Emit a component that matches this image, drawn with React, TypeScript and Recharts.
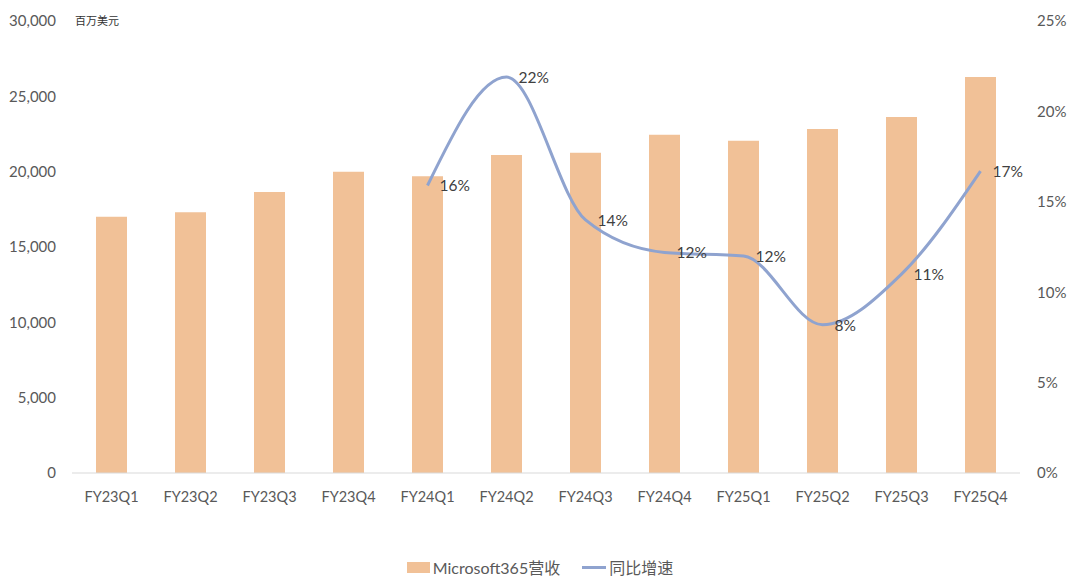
import React from "react";
import {
  ComposedChart,
  Bar,
  Line,
  XAxis,
  YAxis,
  Legend,
  LabelList,
} from "recharts";

const quarters = [
  "FY23Q1", "FY23Q2", "FY23Q3", "FY23Q4",
  "FY24Q1", "FY24Q2", "FY24Q3", "FY24Q4",
  "FY25Q1", "FY25Q2", "FY25Q3", "FY25Q4",
];
const revenue = [
  17000, 17300, 18650, 20000, 19700, 21100, 21260, 22450, 22050, 22830, 23630, 26280,
];
const growth = [
  null, null, null, null, 0.159, 0.219, 0.14, 0.122, 0.12, 0.082, 0.11, 0.167,
];
const leftTicks = [0, 5000, 10000, 15000, 20000, 25000, 30000];
const rightTicks = [0, 0.05, 0.1, 0.15, 0.2, 0.25];

const BAR_COLOR = "#F1C197";
const LINE_COLOR = "#8FA3CF";
const FONT = "Lato, 'Noto Sans CJK SC', sans-serif";

const data = quarters.map((q, i) => ({
  name: q,
  revenue: revenue[i],
  growth: growth[i],
}));

function PctLabel(props: any) {
  const { x, y, value } = props;
  if (value == null) return null;
  return (
    <text
      x={x + 12}
      y={y + 2}
      dominantBaseline="middle"
      textAnchor="start"
      fill="#404040"
      fontSize={15.5}
      fontFamily={FONT}
    >
      {Math.round(value * 100) + "%"}
    </text>
  );
}

function LegendContent() {
  return (
    <div
      style={{
        display: "flex",
        justifyContent: "center",
        alignItems: "center",
        fontFamily: FONT,
        fontSize: 16,
        color: "#595959",
      }}
    >
      <span style={{ display: "inline-block", width: 23, height: 11, background: BAR_COLOR, marginRight: 3 }} />
      <span>Microsoft365营收</span>
      <span style={{ display: "inline-block", width: 24, height: 3, background: LINE_COLOR, marginLeft: 22, marginRight: 3 }} />
      <span>同比增速</span>
    </div>
  );
}

export default function App() {
  return (
    <div style={{ position: "absolute", left: 0, top: 0, width: 1080, height: 582, background: "#fff" }}>
      <ComposedChart
        width={1080}
        height={582}
        data={data}
        margin={{ top: 21, right: 0, bottom: 79, left: 0 }}
      >
        <XAxis
          dataKey="name"
          height={30}
          tickLine={false}
          tickSize={0}
          tickMargin={19}
          axisLine={{ stroke: "#D9D9D9" }}
          tick={{ fill: "#595959", fontSize: 14.5, fontFamily: FONT }}
          interval={0}
        />
        <YAxis
          yAxisId="left"
          width={72}
          domain={[0, 30000]}
          ticks={leftTicks}
          axisLine={false}
          tickLine={false}
          tickSize={0}
          tickMargin={16}
          tick={{ fill: "#595959", fontSize: 15, fontFamily: FONT }}
          tickFormatter={(v: number) => v.toLocaleString("en-US")}
        />
        <YAxis
          yAxisId="right"
          orientation="right"
          width={60}
          domain={[0, 0.25]}
          ticks={rightTicks}
          axisLine={false}
          tickLine={false}
          tickSize={0}
          tickMargin={17}
          tick={{ fill: "#595959", fontSize: 15, fontFamily: FONT }}
          tickFormatter={(v: number) => Math.round(v * 100) + "%"}
        />
        <Legend
          layout="horizontal"
          verticalAlign="middle"
          align="center"
          content={<LegendContent />}
          wrapperStyle={{ top: 555, left: 0, width: 1080 }}
        />
        <Bar
          yAxisId="left"
          dataKey="revenue"
          name="Microsoft365营收"
          fill={BAR_COLOR}
          barSize={31}
          isAnimationActive={false}
        />
        <Line
          yAxisId="right"
          type="monotone"
          dataKey="growth"
          name="同比增速"
          stroke={LINE_COLOR}
          strokeWidth={3}
          dot={false}
          activeDot={false}
          isAnimationActive={false}
        >
          <LabelList dataKey="growth" content={<PctLabel />} />
        </Line>
      </ComposedChart>
      <div
        style={{
          position: "absolute",
          left: 75,
          top: 12,
          fontFamily: "'Noto Sans CJK SC', sans-serif",
          fontSize: 11,
          color: "#333",
        }}
      >
        百万美元
      </div>
    </div>
  );
}
